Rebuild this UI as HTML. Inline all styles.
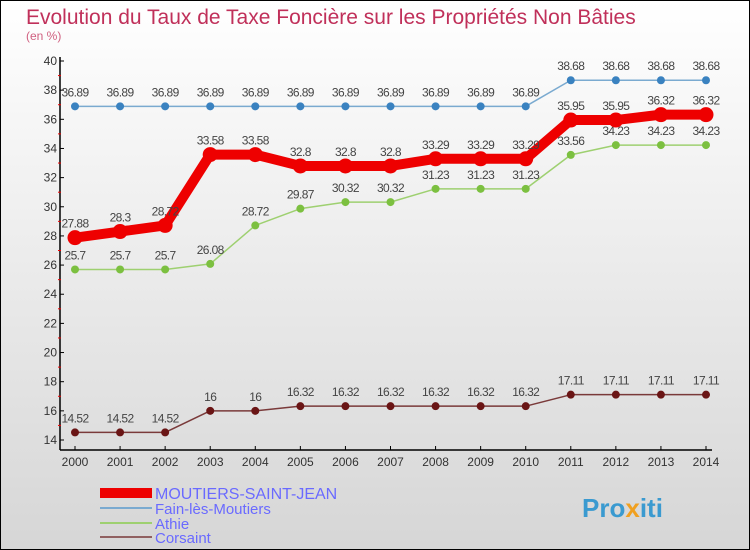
<!DOCTYPE html>
<html><head><meta charset="utf-8"><style>
html,body{margin:0;padding:0}
body{width:750px;height:550px;overflow:hidden;font-family:"Liberation Sans",sans-serif}
svg{display:block}
</style></head><body>
<svg id="chart" width="750" height="550" viewBox="0 0 750 550" xmlns="http://www.w3.org/2000/svg">
<defs><linearGradient id="bg" x1="0" y1="0" x2="0" y2="1"><stop offset="0" stop-color="#ffffff"/><stop offset="1" stop-color="#d6d6d6"/></linearGradient></defs>
<rect x="0.5" y="0.5" width="749" height="549" fill="url(#bg)" stroke="#000"/>
<text x="26" y="24" font-size="21" fill="#c0305a">Evolution du Taux de Taxe Foncière sur les Propriétés Non Bâties</text>
<text x="26" y="40" font-size="12" fill="#d06080">(en %)</text>
<g id="axes"></g>
<g id="series"></g>
<g id="legend">
<rect x="100" y="488" width="52" height="10" fill="#ee0000"/>
<text x="155" y="499" font-size="16" fill="#6a6aff">MOUTIERS-SAINT-JEAN</text>
<rect x="100" y="507" width="52" height="2" fill="#7aaad0"/>
<text x="155" y="514" font-size="15" fill="#6a6aff">Fain-lès-Moutiers</text>
<rect x="100" y="522" width="52" height="2" fill="#9ed070"/>
<text x="155" y="529" font-size="15" fill="#6a6aff">Athie</text>
<rect x="100" y="536" width="52" height="2" fill="#906060"/>
<text x="155" y="543" font-size="15" fill="#6a6aff">Corsaint</text>
</g>
<text x="582" y="517" font-size="26" font-weight="bold" fill="#3a9ad0">Pro<tspan fill="#f0a020">x</tspan><tspan fill="#3a9ad0">iti</tspan></text>
</svg>
<script>
const years=[2000,2001,2002,2003,2004,2005,2006,2007,2008,2009,2010,2011,2012,2013,2014];
const yTicks=[14,16,18,20,22,24,26,28,30,32,34,36,38,40];
const moutiers=[27.88,28.3,28.72,33.58,33.58,32.8,32.8,32.8,33.29,33.29,33.29,35.95,35.95,36.32,36.32];
const fain=[36.89,36.89,36.89,36.89,36.89,36.89,36.89,36.89,36.89,36.89,36.89,38.68,38.68,38.68,38.68];
const athie=[25.7,25.7,25.7,26.08,28.72,29.87,30.32,30.32,31.23,31.23,31.23,33.56,34.23,34.23,34.23];
const corsaint=[14.52,14.52,14.52,16,16,16.32,16.32,16.32,16.32,16.32,16.32,17.11,17.11,17.11,17.11];
const NS="http://www.w3.org/2000/svg";
const x0=75,x1=706,yTop=61,yBot=440,vMin=14,vMax=40;
function xs(i){return x0+(x1-x0)*i/(years.length-1);}
function ys(v){return yBot-(v-vMin)/(vMax-vMin)*(yBot-yTop);}
function mk(tag,attrs,parent){const e=document.createElementNS(NS,tag);for(const k in attrs)e.setAttribute(k,attrs[k]);parent.appendChild(e);return e;}
const axes=document.getElementById('axes');
let a=mk('line',{x1:60,y1:57,x2:60,y2:450,stroke:'#000','stroke-width':1.5},axes);


a=mk('line',{x1:60,y1:450,x2:712,y2:450,stroke:'#000','stroke-width':1.5},axes);


yTicks.forEach(v=>{
  const y=ys(v);
  mk('line',{x1:60,y1:y,x2:64,y2:y,stroke:'#000'},axes);
  if(v<vMax){mk('line',{x1:58,y1:ys(v+1),x2:61,y2:ys(v+1),stroke:'#e00'},axes);}
  const t=mk('text',{x:57,y:y+4,'text-anchor':'end','font-size':12,fill:'#333'},axes);
  t.textContent=v;
  
  
});
years.forEach((yr,i)=>{
  const x=xs(i);
  mk('line',{x1:x,y1:446,x2:x,y2:450,stroke:'#000'},axes);
  const t=mk('text',{x:x,y:466,'text-anchor':'middle','font-size':12,fill:'#333'},axes);
  t.textContent=yr;
  
  
});
const ser=document.getElementById('series');
function draw(vals,name,color,lw,r,dotColor){
  const g=mk('g',{},ser);
  
  
  const pts=vals.map((v,i)=>xs(i)+','+ys(v)).join(' ');
  const l=mk('polyline',{points:pts,fill:'none',stroke:color,'stroke-width':lw,'stroke-linejoin':'round'},g);
  
  
  vals.forEach((v,i)=>{
    const c=mk('circle',{cx:xs(i),cy:ys(v),r:r,fill:dotColor},g);
    
    
    const t=mk('text',{x:xs(i),y:ys(v)-10,'text-anchor':'middle','font-size':12,fill:'#444','letter-spacing':'-0.6'},g);
    t.textContent=v;
    
    
  });
}
draw(corsaint,'corsaint','#7a3a3a',1.5,4,'#6a1515');
draw(athie,'athie','#9ed070',1.5,4,'#7cc040');
draw(fain,'fain','#7aaad0',1.5,4,'#3a82c0');
draw(moutiers,'moutiers','#ee0000',10,7.5,'#ee0000');
</script>
</body></html>
